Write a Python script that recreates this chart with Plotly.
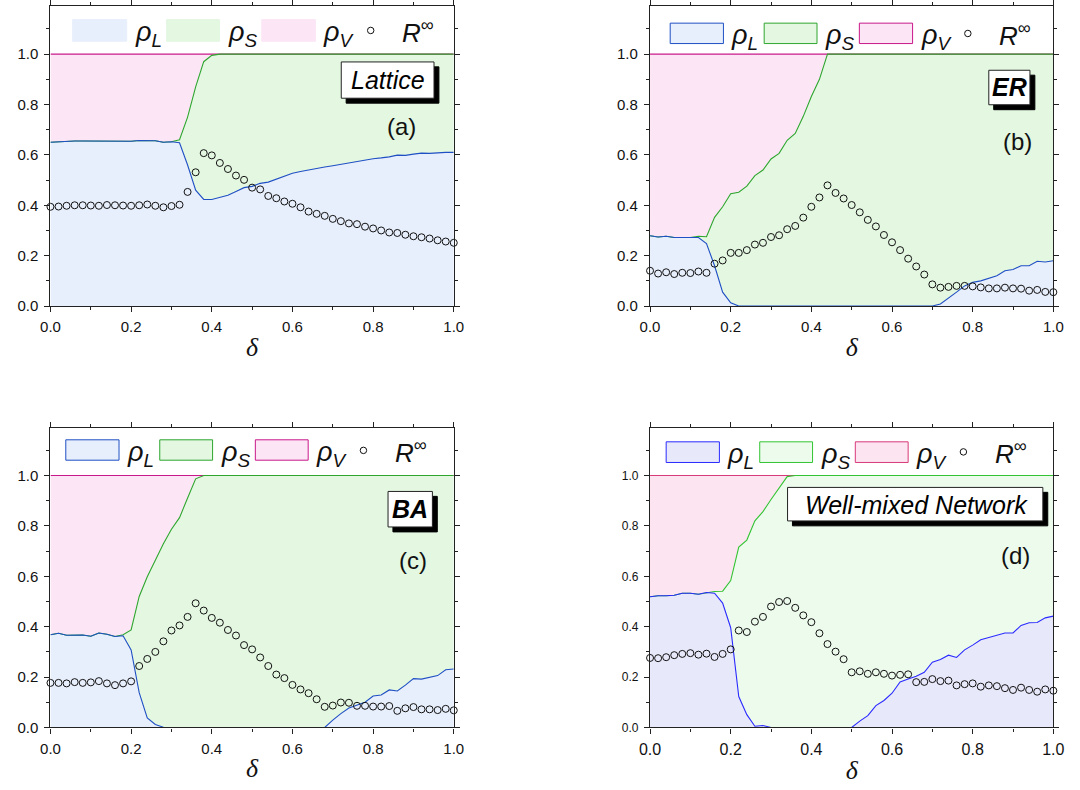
import plotly.graph_objects as go

# Cooperation parameter delta sampled every 0.02
delta = [round(0.02 * k, 2) for k in range(51)]

# ---------------- (a) Lattice ----------------
rho_L_lattice = [0.650, 0.652, 0.653, 0.655, 0.655, 0.655, 0.655, 0.656, 0.656, 0.655,
                 0.654, 0.657, 0.658, 0.656, 0.650, 0.652, 0.648, 0.560, 0.460, 0.423,
                 0.423, 0.430, 0.440, 0.455, 0.470, 0.475, 0.487, 0.492, 0.503, 0.515,
                 0.527, 0.534, 0.541, 0.547, 0.552, 0.557, 0.563, 0.567, 0.572, 0.578,
                 0.585, 0.588, 0.592, 0.599, 0.598, 0.603, 0.607, 0.606, 0.609, 0.610,
                 0.610]
rho_V_lattice = [0.350, 0.348, 0.347, 0.345, 0.345, 0.345, 0.345, 0.344, 0.344, 0.345,
                 0.346, 0.343, 0.342, 0.344, 0.350, 0.348, 0.340, 0.250, 0.130, 0.030,
                 0.005] + [0.0] * 30
R_lattice = [0.394, 0.395, 0.398, 0.400, 0.400, 0.399, 0.398, 0.401, 0.400, 0.399,
             0.398, 0.400, 0.403, 0.398, 0.392, 0.397, 0.402, 0.453, 0.531, 0.607,
             0.598, 0.568, 0.544, 0.518, 0.501, 0.470, 0.463, 0.437, 0.428, 0.415,
             0.406, 0.392, 0.375, 0.366, 0.358, 0.346, 0.337, 0.328, 0.325, 0.315,
             0.308, 0.300, 0.292, 0.290, 0.283, 0.277, 0.273, 0.268, 0.261, 0.256,
             0.251]

# ---------------- (b) ER ----------------
rho_L_er = [0.279, 0.274, 0.277, 0.272, 0.272, 0.272, 0.272, 0.248, 0.160, 0.055,
            0.013] + [0.0] * 25 + [0.008, 0.030, 0.055, 0.080, 0.094, 0.100, 0.110,
                                   0.120, 0.140, 0.145, 0.160, 0.160, 0.178, 0.175, 0.180]
rho_V_er = [0.721, 0.726, 0.723, 0.728, 0.728, 0.728, 0.723, 0.725, 0.648, 0.606,
            0.554, 0.548, 0.524, 0.482, 0.460, 0.416, 0.394, 0.342, 0.315, 0.247,
            0.168, 0.100] + [0.0] * 29
R_er = [0.140, 0.129, 0.134, 0.127, 0.132, 0.131, 0.137, 0.132, 0.168, 0.181,
        0.211, 0.211, 0.222, 0.244, 0.251, 0.274, 0.281, 0.305, 0.318, 0.351,
        0.394, 0.431, 0.479, 0.449, 0.427, 0.401, 0.372, 0.342, 0.316, 0.282,
        0.253, 0.222, 0.188, 0.157, 0.125, 0.086, 0.073, 0.076, 0.080, 0.080,
        0.078, 0.074, 0.070, 0.070, 0.073, 0.070, 0.069, 0.061, 0.064, 0.056,
        0.055]

# ---------------- (c) BA ----------------
rho_L_ba = [0.368, 0.374, 0.366, 0.368, 0.367, 0.362, 0.375, 0.370, 0.361, 0.364,
            0.308, 0.138, 0.038, 0.012, 0.001] + [0.0] * 20 + [
            0.029, 0.055, 0.077, 0.090, 0.100, 0.125, 0.129, 0.149, 0.145, 0.168,
            0.194, 0.192, 0.200, 0.206, 0.229, 0.232]
rho_V_ba = [0.632, 0.626, 0.634, 0.632, 0.633, 0.638, 0.625, 0.630, 0.639, 0.632,
            0.613, 0.480, 0.402, 0.336, 0.271, 0.213, 0.167, 0.089, 0.013] + [0.0] * 32
R_ba = [0.177, 0.177, 0.175, 0.180, 0.177, 0.179, 0.184, 0.175, 0.168, 0.175,
        0.183, 0.244, 0.272, 0.300, 0.342, 0.385, 0.405, 0.439, 0.493, 0.464,
        0.435, 0.416, 0.387, 0.365, 0.327, 0.310, 0.278, 0.244, 0.210, 0.196,
        0.169, 0.151, 0.136, 0.112, 0.082, 0.087, 0.099, 0.098, 0.086, 0.086,
        0.083, 0.083, 0.085, 0.066, 0.076, 0.081, 0.072, 0.072, 0.069, 0.074,
        0.068]

# ---------------- (d) Well-mixed ----------------
rho_L_wm = [0.519, 0.523, 0.523, 0.525, 0.533, 0.533, 0.529, 0.536, 0.533, 0.494,
            0.396, 0.123, 0.051, 0.005, 0.008] + [0.0] * 11 + [
            0.025, 0.047, 0.087, 0.107, 0.136, 0.181, 0.192, 0.203, 0.219, 0.259,
            0.270, 0.287, 0.278, 0.308, 0.327, 0.348, 0.357, 0.366, 0.375, 0.375,
            0.405, 0.416, 0.417, 0.435, 0.442]
rho_V_wm = [0.481, 0.477, 0.477, 0.475, 0.467, 0.467, 0.471, 0.464, 0.460, 0.459,
            0.417, 0.284, 0.256, 0.180, 0.143, 0.095, 0.050, 0.004] + [0.0] * 33
R_wm = [0.276, 0.275, 0.279, 0.287, 0.292, 0.295, 0.289, 0.293, 0.280, 0.292,
        0.310, 0.385, 0.379, 0.420, 0.439, 0.480, 0.498, 0.502, 0.475, 0.445,
        0.418, 0.374, 0.331, 0.301, 0.271, 0.219, 0.223, 0.213, 0.219, 0.213,
        0.206, 0.209, 0.211, 0.180, 0.181, 0.192, 0.184, 0.186, 0.167, 0.172,
        0.175, 0.162, 0.167, 0.164, 0.156, 0.149, 0.158, 0.149, 0.142, 0.151,
        0.146]

x_ticks = [0.0, 0.2, 0.4, 0.6, 0.8, 1.0]
y_ticks = [0.0, 0.2, 0.4, 0.6, 0.8, 1.0]

STYLE_ABC = dict(fill_L="#e8effc", fill_S="#e3f7e1", fill_V="#fce6f6",
                 line_L="#1f4fc4", line_S="#2ea62e", line_V="#c8188a")
STYLE_D = dict(fill_L="#e8e8fb", fill_S="#edfbed", fill_V="#fce4f0",
               line_L="#2a2aff", line_S="#33c433", line_V="#d83a7a")

panels = [
    dict(L=rho_L_lattice, V=rho_V_lattice, R=R_lattice, ax="", style=STYLE_ABC,
         dx=(0.0373, 0.4185), dy=(0.6110, 0.9958), ytick_size=15, xtick_size=15,
         border=False,
         rects=[(0.055, 0.189), (0.288, 0.419), (0.524, 0.657)], ry=(1.051, 1.137),
         circ=(0.794, 1.094), rx=0.866,
         box=(0.721, 0.951, 0.825, 0.969), label="<i>Lattice</i>", label_xy=(0.836, 0.897),
         letter="(a)", letter_xy=(0.871, 0.714)),
    dict(L=rho_L_er, V=rho_V_er, R=R_er, ax="2", style=STYLE_ABC,
         dx=(0.6040, 0.9852), dy=(0.6110, 0.9958), ytick_size=15, xtick_size=15,
         border=True,
         rects=[(0.050, 0.182), (0.283, 0.414), (0.519, 0.651)], ry=(1.042, 1.123),
         circ=(0.788, 1.082), rx=0.861,
         box=(0.840, 0.942, 0.799, 0.936), label="<b><i>ER</i></b>", label_xy=(0.891, 0.868),
         letter="(b)", letter_xy=(0.910, 0.655)),
    dict(L=rho_L_ba, V=rho_V_ba, R=R_ba, ax="3", style=STYLE_ABC,
         dx=(0.0373, 0.4185), dy=(0.0700, 0.4548), ytick_size=15, xtick_size=15,
         border=True,
         rects=[(0.038, 0.170), (0.271, 0.402), (0.508, 0.639)], ry=(1.061, 1.142),
         circ=(0.776, 1.100), rx=0.849,
         box=(0.837, 0.947, 0.796, 0.937), label="<b><i>BA</i></b>", label_xy=(0.892, 0.866),
         letter="(c)", letter_xy=(0.898, 0.664)),
    dict(L=rho_L_wm, V=rho_V_wm, R=R_wm, ax="4", style=STYLE_D,
         dx=(0.6040, 0.9852), dy=(0.0700, 0.4548), ytick_size=12, xtick_size=16,
         border=True,
         rects=[(0.040, 0.172), (0.272, 0.403), (0.509, 0.640)], ry=(1.052, 1.134),
         circ=(0.777, 1.094), rx=0.851,
         box=(0.341, 0.974, 0.820, 0.953), label="<i>Well-mixed Network</i>",
         label_xy=(0.660, 0.885), letter="(d)", letter_xy=(0.905, 0.682)),
]

Y_MAX = 1.19
PX_X = 411.7   # pixels per unit along x
PX_Y = 255.5   # pixels per unit along y
FONT = "Liberation Sans"

fig = go.Figure()
shapes = []
annotations = []
layout_axes = {}

for i, p in enumerate(panels):
    xa, ya = "x" + p["ax"], "y" + p["ax"]
    st = p["style"]
    L, V = p["L"], p["V"]
    S = [max(0.0, 1.0 - l - v) for l, v in zip(L, V)]
    LS = [l + s for l, s in zip(L, S)]
    LSV = [l + s + v for l, s, v in zip(L, S, V)]
    grp = f"stack{i}"

    # stacked areas
    for vals, fc in ((L, st["fill_L"]), (S, st["fill_S"]), (V, st["fill_V"])):
        fig.add_trace(go.Scatter(x=delta, y=vals, stackgroup=grp, mode="lines",
                                 line=dict(width=0), fillcolor=fc, hoverinfo="skip",
                                 showlegend=False, xaxis=xa, yaxis=ya))
    # boundaries
    for vals, lc in ((LSV, st["line_V"]), (LS, st["line_S"]), (L, st["line_L"])):
        fig.add_trace(go.Scatter(x=delta, y=vals, mode="lines",
                                 line=dict(color=lc, width=1.1), showlegend=False,
                                 xaxis=xa, yaxis=ya))
    # R infinity
    fig.add_trace(go.Scatter(x=delta, y=p["R"], mode="markers",
                             marker=dict(symbol="circle-open", size=7, color="#111",
                                         line=dict(width=1)),
                             showlegend=False, xaxis=xa, yaxis=ya, cliponaxis=False))

    # axes
    xkey = "xaxis" + p["ax"]
    ykey = "yaxis" + p["ax"]
    common = dict(showgrid=False, zeroline=False, showline=True, linecolor="#222",
                  linewidth=1.3, mirror="ticks", ticks="outside", ticklen=5,
                  tickwidth=1, tickcolor="#222", tickformat=".1f",
                  minor=dict(ticks="outside", ticklen=3, tickcolor="#222", dtick=0.1))
    layout_axes[xkey] = dict(common, domain=list(p["dx"]), range=[0, 1],
                             tickvals=x_ticks, anchor=ya, ticklabelstandoff=2,
                             tickfont=dict(family=FONT, size=p["xtick_size"], color="#111"),
                             title=dict(text="<i>δ</i>", standoff=3,
                                        font=dict(family="Liberation Serif",
                                                  size=26, color="#111")))
    layout_axes[ykey] = dict(common, domain=list(p["dy"]), range=[0, Y_MAX],
                             tickvals=y_ticks, anchor=xa, ticklabelstandoff=3,
                             tickfont=dict(family=FONT, size=p["ytick_size"], color="#111"))

    # legend swatches
    y0, y1 = p["ry"]
    fills = (st["fill_L"], st["fill_S"], st["fill_V"])
    edges = (st["line_L"], st["line_S"], st["line_V"])
    names = ("<i>ρ</i><sub><i>L</i></sub>", "<i>ρ</i><sub><i>S</i></sub>",
             "<i>ρ</i><sub><i>V</i></sub>")
    for (rx0, rx1), fc, ec, nm in zip(p["rects"], fills, edges, names):
        shapes.append(dict(type="rect", xref=xa, yref=ya, x0=rx0, x1=rx1, y0=y0, y1=y1,
                           fillcolor=fc,
                           line=dict(color=ec if p["border"] else fc, width=1)))
        annotations.append(dict(xref=xa, yref=ya, x=rx1 + 0.015, y=(y0 + y1) / 2 - 0.014,
                                xanchor="left", yanchor="middle", showarrow=False,
                                text=nm, font=dict(family=FONT, size=27, color="#111")))
    cx, cy = p["circ"]
    rr = 3.3
    shapes.append(dict(type="circle", xref=xa, yref=ya,
                       x0=cx - rr / PX_X, x1=cx + rr / PX_X,
                       y0=cy - rr / PX_Y, y1=cy + rr / PX_Y,
                       line=dict(color="#111", width=1)))
    annotations.append(dict(xref=xa, yref=ya, x=p["rx"], y=cy - 0.004, xanchor="left",
                            yanchor="middle", showarrow=False,
                            text="<i>R</i><sup>∞</sup>",
                            font=dict(family=FONT, size=26, color="#111")))

    # network label box with drop shadow
    bx0, bx1, by0, by1 = p["box"]
    shapes.append(dict(type="rect", xref=xa, yref=ya,
                       x0=bx0 + 5 / PX_X, x1=bx1 + 5 / PX_X,
                       y0=by0 - 5 / PX_Y, y1=by1 - 5 / PX_Y,
                       fillcolor="#000", line=dict(color="#000", width=1)))
    shapes.append(dict(type="rect", xref=xa, yref=ya, x0=bx0, x1=bx1, y0=by0, y1=by1,
                       fillcolor="#fff", line=dict(color="#222", width=1)))
    annotations.append(dict(xref=xa, yref=ya, x=p["label_xy"][0], y=p["label_xy"][1],
                            xanchor="center", yanchor="middle", showarrow=False,
                            text=p["label"], font=dict(family=FONT, size=25, color="#000")))
    annotations.append(dict(xref=xa, yref=ya, x=p["letter_xy"][0], y=p["letter_xy"][1],
                            xanchor="center", yanchor="middle", showarrow=False,
                            text=p["letter"], font=dict(family=FONT, size=24, color="#111")))

fig.update_layout(
    width=1080, height=790,
    margin=dict(l=0, r=0, t=0, b=0),
    paper_bgcolor="white", plot_bgcolor="white",
    font=dict(family=FONT, size=15, color="#111"),
    showlegend=False,
    shapes=shapes, annotations=annotations,
    **layout_axes,
)

fig.write_html("out.html")
